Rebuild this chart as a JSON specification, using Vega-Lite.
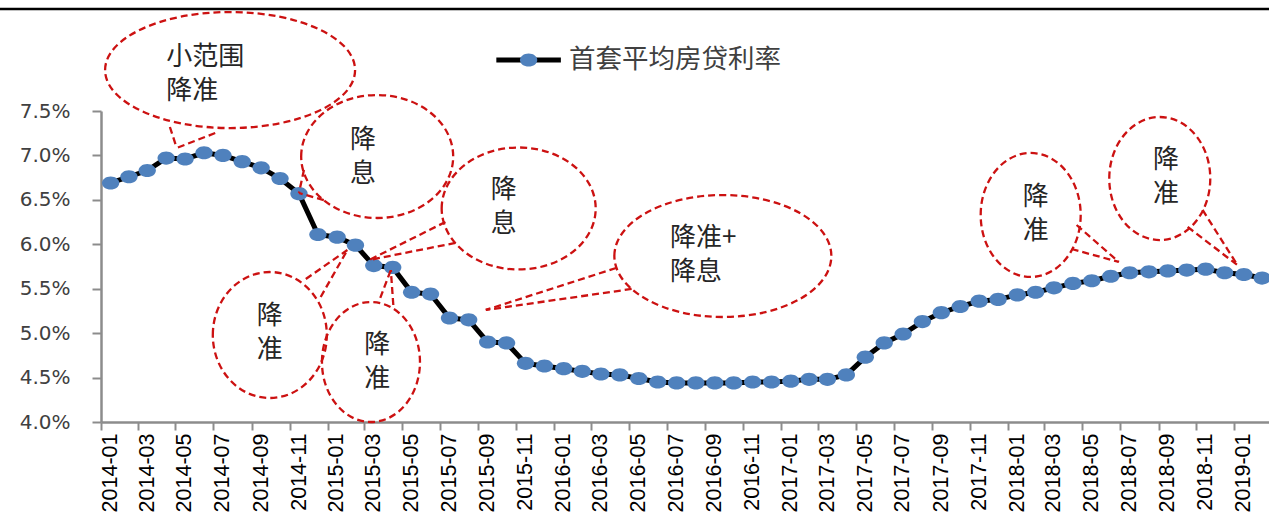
{
  "$schema": "https://vega.github.io/schema/vega-lite/v6.json",
  "autosize": {"type": "none"},
  "padding": {"left": 101, "top": 111, "right": 0, "bottom": 90},
  "width": 1168,
  "height": 311,
  "background": "white",
  "config": {
    "view": {"stroke": null},
    "font": "Noto Sans CJK SC",
    "axis": {"labelOverlap": false, "grid": false, "title": null, "domainColor": "#8c8c8c", "domainWidth": 2.5, "tickColor": "#8c8c8c", "tickWidth": 2},
    "axisX": {"labelOverlap": false, "labelSeparation": 0, "labelAngle": -90, "labelFont": "Liberation Sans", "labelFontSize": 21.5, "labelColor": "#000000", "labelPadding": 3, "labelOffset": 9.4, "labelFlush": false, "tickSize": 8},
    "axisY": {"labelFont": "DejaVu Sans", "labelFontSize": 20, "labelColor": "#404040", "labelPadding": 22, "tickSize": 9}
  },
  "datasets": {
    "series": [
      {"month": "2014-01", "rate": 0.0669}, {"month": "2014-02", "rate": 0.0676}, {"month": "2014-03", "rate": 0.0683},
      {"month": "2014-04", "rate": 0.0697}, {"month": "2014-05", "rate": 0.0696}, {"month": "2014-06", "rate": 0.0703},
      {"month": "2014-07", "rate": 0.0700}, {"month": "2014-08", "rate": 0.0693}, {"month": "2014-09", "rate": 0.0686},
      {"month": "2014-10", "rate": 0.0674}, {"month": "2014-11", "rate": 0.0657}, {"month": "2014-12", "rate": 0.0611},
      {"month": "2015-01", "rate": 0.0608}, {"month": "2015-02", "rate": 0.0599}, {"month": "2015-03", "rate": 0.0576},
      {"month": "2015-04", "rate": 0.0574}, {"month": "2015-05", "rate": 0.0546}, {"month": "2015-06", "rate": 0.0544},
      {"month": "2015-07", "rate": 0.0517}, {"month": "2015-08", "rate": 0.0515}, {"month": "2015-09", "rate": 0.0490},
      {"month": "2015-10", "rate": 0.0489}, {"month": "2015-11", "rate": 0.0466}, {"month": "2015-12", "rate": 0.0463},
      {"month": "2016-01", "rate": 0.0460}, {"month": "2016-02", "rate": 0.0457}, {"month": "2016-03", "rate": 0.0454},
      {"month": "2016-04", "rate": 0.0453}, {"month": "2016-05", "rate": 0.0449}, {"month": "2016-06", "rate": 0.0445},
      {"month": "2016-07", "rate": 0.0444}, {"month": "2016-08", "rate": 0.0444}, {"month": "2016-09", "rate": 0.0444},
      {"month": "2016-10", "rate": 0.0444}, {"month": "2016-11", "rate": 0.0445}, {"month": "2016-12", "rate": 0.0445},
      {"month": "2017-01", "rate": 0.0446}, {"month": "2017-02", "rate": 0.0448}, {"month": "2017-03", "rate": 0.0448},
      {"month": "2017-04", "rate": 0.0453}, {"month": "2017-05", "rate": 0.0473}, {"month": "2017-06", "rate": 0.0489},
      {"month": "2017-07", "rate": 0.0499}, {"month": "2017-08", "rate": 0.0513}, {"month": "2017-09", "rate": 0.0523},
      {"month": "2017-10", "rate": 0.0530}, {"month": "2017-11", "rate": 0.0536}, {"month": "2017-12", "rate": 0.0538},
      {"month": "2018-01", "rate": 0.0543}, {"month": "2018-02", "rate": 0.0546}, {"month": "2018-03", "rate": 0.0551},
      {"month": "2018-04", "rate": 0.0556}, {"month": "2018-05", "rate": 0.0559}, {"month": "2018-06", "rate": 0.0564},
      {"month": "2018-07", "rate": 0.0568}, {"month": "2018-08", "rate": 0.0569}, {"month": "2018-09", "rate": 0.0570},
      {"month": "2018-10", "rate": 0.0571}, {"month": "2018-11", "rate": 0.0572}, {"month": "2018-12", "rate": 0.0568},
      {"month": "2019-01", "rate": 0.0566}, {"month": "2019-02", "rate": 0.0562}
    ],
    "callouts": [
      {"id": 1, "date": "2014-07-28", "rate": 0.07961, "tdate": "2014-04-16", "trate": 0.08113, "label": "小范围\n降准"},
      {"id": 2, "date": "2015-03-22", "rate": 0.06988, "tdate": "2015-02-27", "trate": 0.07179, "label": "降\n息"},
      {"id": 3, "date": "2015-11-05", "rate": 0.06403, "tdate": "2015-10-12", "trate": 0.06616, "label": "降\n息"},
      {"id": 4, "date": "2016-09-29", "rate": 0.05868, "tdate": "2016-07-06", "trate": 0.06076, "label": "降准+\n降息"},
      {"id": 5, "date": "2014-09-30", "rate": 0.04979, "tdate": "2014-09-30", "trate": 0.05198, "label": "降\n准"},
      {"id": 6, "date": "2015-03-12", "rate": 0.04675, "tdate": "2015-03-22", "trate": 0.04872, "label": "降\n准"},
      {"id": 7, "date": "2018-02-07", "rate": 0.06330, "tdate": "2018-02-15", "trate": 0.06532, "label": "降\n准"},
      {"id": 8, "date": "2018-09-03", "rate": 0.06740, "tdate": "2018-09-13", "trate": 0.06943, "label": "降\n准"}
    ],
    "tails": [
      {"id": 1, "date": "2014-04-22", "rate": 0.07320, "date2": "2014-05-03", "rate2": 0.07084},
      {"id": 1, "date": "2014-07-04", "rate": 0.07252, "date2": "2014-05-03", "rate2": 0.07084},
      {"id": 2, "date": "2014-11-24", "rate": 0.06836, "date2": "2014-11-16", "rate2": 0.06577},
      {"id": 2, "date": "2014-12-26", "rate": 0.06498, "date2": "2014-11-16", "rate2": 0.06577},
      {"id": 3, "date": "2015-07-10", "rate": 0.06251, "date2": "2015-03-09", "rate2": 0.05823},
      {"id": 3, "date": "2015-07-26", "rate": 0.06015, "date2": "2015-03-09", "rate2": 0.05823},
      {"id": 4, "date": "2016-04-10", "rate": 0.05733, "date2": "2015-09-13", "rate2": 0.05261},
      {"id": 4, "date": "2016-05-05", "rate": 0.05497, "date2": "2015-09-13", "rate2": 0.05261},
      {"id": 5, "date": "2014-11-27", "rate": 0.05609, "date2": "2015-02-02", "rate2": 0.05936},
      {"id": 5, "date": "2014-12-21", "rate": 0.05407, "date2": "2015-02-02", "rate2": 0.05936},
      {"id": 6, "date": "2015-03-27", "rate": 0.05396, "date2": "2015-04-13", "rate2": 0.05711},
      {"id": 6, "date": "2015-04-17", "rate": 0.05317, "date2": "2015-04-13", "rate2": 0.05711},
      {"id": 7, "date": "2018-04-22", "rate": 0.06217, "date2": "2018-06-29", "rate2": 0.05801},
      {"id": 7, "date": "2018-04-14", "rate": 0.05947, "date2": "2018-06-29", "rate2": 0.05801},
      {"id": 8, "date": "2018-11-11", "rate": 0.06386, "date2": "2019-01-06", "rate2": 0.05767},
      {"id": 8, "date": "2018-10-18", "rate": 0.06195, "date2": "2019-01-06", "rate2": 0.05767}
    ],
    "legendline": [{"date": "2015-09-30", "date2": "2016-01-12", "rate": 0.08074}],
    "legendmark": [{"date": "2015-11-21", "rate": 0.08074}],
    "legendtext": [{"date": "2016-01-25", "rate": 0.08074, "label": "首套平均房贷利率"}],
    "border": [{"date": "2013-07-19", "date2": "2019-04-01", "rate": 0.08648}]
  },
  "layer": [
    {
      "data": {"name": "series"},
      "mark": {"type": "line", "color": "black", "strokeWidth": 5},
      "encoding": {
        "x": {
          "field": "month", "type": "temporal", "timeUnit": "utcyearmonth", "bandPosition": 0.5, "title": null,
          "scale": {"type": "utc", "domain": [{"year": 2014, "month": 1, "date": 1, "utc": true}, {"year": 2019, "month": 2, "date": 26, "utc": true}]},
          "axis": {
            "values": [
              {"year": 2014, "month": 1, "date": 1, "utc": true}, {"year": 2014, "month": 3, "date": 1, "utc": true}, {"year": 2014, "month": 5, "date": 1, "utc": true},
              {"year": 2014, "month": 7, "date": 1, "utc": true}, {"year": 2014, "month": 9, "date": 1, "utc": true}, {"year": 2014, "month": 11, "date": 1, "utc": true},
              {"year": 2015, "month": 1, "date": 1, "utc": true}, {"year": 2015, "month": 3, "date": 1, "utc": true}, {"year": 2015, "month": 5, "date": 1, "utc": true},
              {"year": 2015, "month": 7, "date": 1, "utc": true}, {"year": 2015, "month": 9, "date": 1, "utc": true}, {"year": 2015, "month": 11, "date": 1, "utc": true},
              {"year": 2016, "month": 1, "date": 1, "utc": true}, {"year": 2016, "month": 3, "date": 1, "utc": true}, {"year": 2016, "month": 5, "date": 1, "utc": true},
              {"year": 2016, "month": 7, "date": 1, "utc": true}, {"year": 2016, "month": 9, "date": 1, "utc": true}, {"year": 2016, "month": 11, "date": 1, "utc": true},
              {"year": 2017, "month": 1, "date": 1, "utc": true}, {"year": 2017, "month": 3, "date": 1, "utc": true}, {"year": 2017, "month": 5, "date": 1, "utc": true},
              {"year": 2017, "month": 7, "date": 1, "utc": true}, {"year": 2017, "month": 9, "date": 1, "utc": true}, {"year": 2017, "month": 11, "date": 1, "utc": true},
              {"year": 2018, "month": 1, "date": 1, "utc": true}, {"year": 2018, "month": 3, "date": 1, "utc": true}, {"year": 2018, "month": 5, "date": 1, "utc": true},
              {"year": 2018, "month": 7, "date": 1, "utc": true}, {"year": 2018, "month": 9, "date": 1, "utc": true}, {"year": 2018, "month": 11, "date": 1, "utc": true},
              {"year": 2019, "month": 1, "date": 1, "utc": true}
            ],
            "tickCount": 100, "format": "%Y-%m", "labelOverlap": false, "title": null
          }
        },
        "y": {
          "field": "rate", "type": "quantitative", "title": null,
          "scale": {"domain": [0.04, 0.075], "nice": false, "zero": false},
          "axis": {"values": [0.04, 0.045, 0.05, 0.055, 0.06, 0.065, 0.07, 0.075], "format": ".1%", "title": null}
        }
      }
    },
    {
      "data": {"name": "series"},
      "mark": {"type": "point", "shape": "M -1 0 A 1 0.76 0 1 1 1 0 A 1 0.76 0 1 1 -1 0 Z", "size": 300, "filled": true, "color": "#4F81BD", "opacity": 1, "strokeWidth": 0},
      "encoding": {
        "x": {"field": "month", "type": "temporal", "timeUnit": "utcyearmonth", "bandPosition": 0.5, "title": null},
        "y": {"field": "rate", "type": "quantitative", "title": null}
      }
    },
    {
      "data": {"name": "tails"},
      "mark": {"type": "rule", "color": "#CC1111", "strokeWidth": 2.3, "strokeDash": [7, 4]},
      "encoding": {
        "x": {"field": "date", "type": "temporal", "title": null},
        "y": {"field": "rate", "type": "quantitative", "title": null},
        "x2": {"field": "date2"},
        "y2": {"field": "rate2"}
      }
    },
    {
      "data": {"name": "callouts"}, "transform": [{"filter": "datum.id == 1"}],
      "mark": {"type": "point", "shape": "M -1 0 A 1 0.464 0 1 1 1 0 A 1 0.464 0 1 1 -1 0 Z", "size": 62500, "filled": false, "color": "#CC1111", "opacity": 1, "strokeWidth": 2.3, "strokeDash": [7, 4]},
      "encoding": {"x": {"field": "date", "type": "temporal", "title": null}, "y": {"field": "rate", "type": "quantitative", "title": null}}
    },
    {
      "data": {"name": "callouts"}, "transform": [{"filter": "datum.id == 2"}],
      "mark": {"type": "point", "shape": "M -1 0 A 1 0.809 0 1 1 1 0 A 1 0.809 0 1 1 -1 0 Z", "size": 23104, "filled": false, "color": "#CC1111", "opacity": 1, "strokeWidth": 2.3, "strokeDash": [7, 4]},
      "encoding": {"x": {"field": "date", "type": "temporal", "title": null}, "y": {"field": "rate", "type": "quantitative", "title": null}}
    },
    {
      "data": {"name": "callouts"}, "transform": [{"filter": "datum.id == 3"}],
      "mark": {"type": "point", "shape": "M -1 0 A 1 0.792 0 1 1 1 0 A 1 0.792 0 1 1 -1 0 Z", "size": 23716, "filled": false, "color": "#CC1111", "opacity": 1, "strokeWidth": 2.3, "strokeDash": [7, 4]},
      "encoding": {"x": {"field": "date", "type": "temporal", "title": null}, "y": {"field": "rate", "type": "quantitative", "title": null}}
    },
    {
      "data": {"name": "callouts"}, "transform": [{"filter": "datum.id == 4"}],
      "mark": {"type": "point", "shape": "M -1 0 A 1 0.562 0 1 1 1 0 A 1 0.562 0 1 1 -1 0 Z", "size": 47089, "filled": false, "color": "#CC1111", "opacity": 1, "strokeWidth": 2.3, "strokeDash": [7, 4]},
      "encoding": {"x": {"field": "date", "type": "temporal", "title": null}, "y": {"field": "rate", "type": "quantitative", "title": null}}
    },
    {
      "data": {"name": "callouts"}, "transform": [{"filter": "datum.id == 5"}],
      "mark": {"type": "point", "shape": "M -1 0 A 1 1.105 0 1 1 1 0 A 1 1.105 0 1 1 -1 0 Z", "size": 12996, "filled": false, "color": "#CC1111", "opacity": 1, "strokeWidth": 2.3, "strokeDash": [7, 4]},
      "encoding": {"x": {"field": "date", "type": "temporal", "title": null}, "y": {"field": "rate", "type": "quantitative", "title": null}}
    },
    {
      "data": {"name": "callouts"}, "transform": [{"filter": "datum.id == 6"}],
      "mark": {"type": "point", "shape": "M -1 0 A 1 1.224 0 1 1 1 0 A 1 1.224 0 1 1 -1 0 Z", "size": 9604, "filled": false, "color": "#CC1111", "opacity": 1, "strokeWidth": 2.3, "strokeDash": [7, 4]},
      "encoding": {"x": {"field": "date", "type": "temporal", "title": null}, "y": {"field": "rate", "type": "quantitative", "title": null}}
    },
    {
      "data": {"name": "callouts"}, "transform": [{"filter": "datum.id == 7"}],
      "mark": {"type": "point", "shape": "M -1 0 A 1 1.24 0 1 1 1 0 A 1 1.24 0 1 1 -1 0 Z", "size": 10000, "filled": false, "color": "#CC1111", "opacity": 1, "strokeWidth": 2.3, "strokeDash": [7, 4]},
      "encoding": {"x": {"field": "date", "type": "temporal", "title": null}, "y": {"field": "rate", "type": "quantitative", "title": null}}
    },
    {
      "data": {"name": "callouts"}, "transform": [{"filter": "datum.id == 8"}],
      "mark": {"type": "point", "shape": "M -1 0 A 1 1.218 0 1 1 1 0 A 1 1.218 0 1 1 -1 0 Z", "size": 10201, "filled": false, "color": "#CC1111", "opacity": 1, "strokeWidth": 2.3, "strokeDash": [7, 4]},
      "encoding": {"x": {"field": "date", "type": "temporal", "title": null}, "y": {"field": "rate", "type": "quantitative", "title": null}}
    },
    {
      "data": {"name": "callouts"}, "transform": [{"filter": "datum.id != 1 && datum.id != 4"}],
      "mark": {"type": "text", "align": "center", "baseline": "middle", "lineBreak": "\n", "lineHeight": 34, "fontSize": 26, "font": "Noto Sans CJK SC", "color": "#262626"},
      "encoding": {"x": {"field": "tdate", "type": "temporal", "title": null}, "y": {"field": "trate", "type": "quantitative", "title": null}, "text": {"field": "label"}}
    },
    {
      "data": {"name": "callouts"}, "transform": [{"filter": "datum.id == 1 || datum.id == 4"}],
      "mark": {"type": "text", "align": "left", "baseline": "middle", "lineBreak": "\n", "lineHeight": 34, "fontSize": 26, "font": "Noto Sans CJK SC", "color": "#262626"},
      "encoding": {"x": {"field": "tdate", "type": "temporal", "title": null}, "y": {"field": "trate", "type": "quantitative", "title": null}, "text": {"field": "label"}}
    },
    {
      "data": {"name": "legendline"},
      "mark": {"type": "rule", "color": "black", "strokeWidth": 5},
      "encoding": {"x": {"field": "date", "type": "temporal", "title": null}, "x2": {"field": "date2"}, "y": {"field": "rate", "type": "quantitative", "title": null}}
    },
    {
      "data": {"name": "legendmark"},
      "mark": {"type": "point", "shape": "M -1 0 A 1 0.76 0 1 1 1 0 A 1 0.76 0 1 1 -1 0 Z", "size": 300, "filled": true, "color": "#4F81BD", "opacity": 1, "strokeWidth": 0},
      "encoding": {"x": {"field": "date", "type": "temporal", "title": null}, "y": {"field": "rate", "type": "quantitative", "title": null}}
    },
    {
      "data": {"name": "legendtext"},
      "mark": {"type": "text", "align": "left", "baseline": "middle", "fontSize": 26.5, "font": "Noto Sans CJK SC", "color": "#404040"},
      "encoding": {"x": {"field": "date", "type": "temporal", "title": null}, "y": {"field": "rate", "type": "quantitative", "title": null}, "text": {"field": "label"}}
    },
    {
      "data": {"name": "border"},
      "mark": {"type": "rule", "color": "black", "strokeWidth": 2.5},
      "encoding": {"x": {"field": "date", "type": "temporal", "title": null}, "x2": {"field": "date2"}, "y": {"field": "rate", "type": "quantitative", "title": null}}
    }
  ]
}
